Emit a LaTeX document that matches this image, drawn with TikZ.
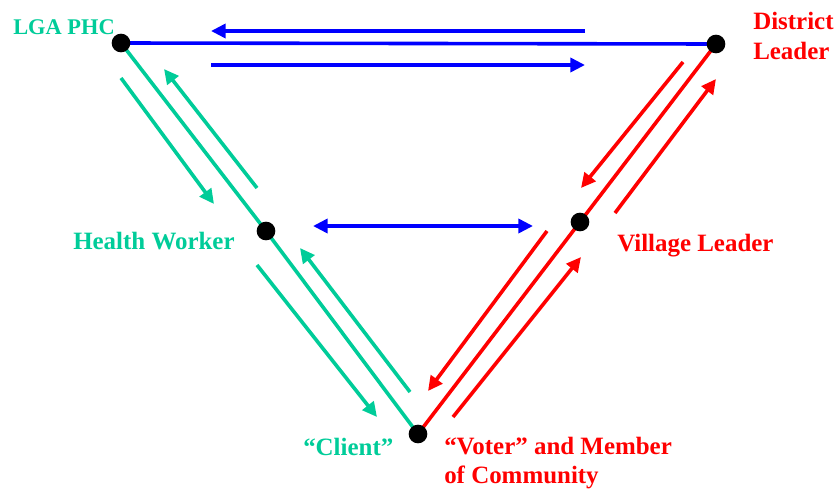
\documentclass[tikz,border=0pt]{standalone}
\usepackage{fontspec}
\setmainfont{Liberation Serif}
\usetikzlibrary{arrows.meta}
\definecolor{grn}{RGB}{0,204,153}
\definecolor{rd}{RGB}{255,0,0}
\definecolor{bl}{RGB}{0,0,255}
\pgfdeclarelayer{bg}
\pgfsetlayers{bg,main}
\begin{document}
\begin{tikzpicture}[x=0.75pt,y=-0.75pt,
  dot/.style={circle, fill=black, minimum size=14pt, inner sep=0pt},
  link/.style={line width=2.7pt},
  arr/.style={line width=2.7pt, -{Triangle[length=11pt,width=10.5pt]}},
  dblarr/.style={line width=2.7pt, {Triangle[length=11pt,width=10.5pt]}-{Triangle[length=11pt,width=10.5pt]}},
  lbl/.style={font=\fontsize{18.7}{22.5}\selectfont\bfseries, inner sep=0pt}]
\useasboundingbox (0,0) rectangle (836,489);
% dots
\node[dot] (lga) at (121,43) {};
\node[dot] (dist) at (716,44) {};
\node[dot] (hw) at (266,231) {};
\node[dot] (vl) at (580,222) {};
\node[dot] (cl) at (418,434) {};
% main lines
\begin{pgfonlayer}{bg}
\draw[link, bl] (lga.center) -- (dist.center);
\draw[link, grn] (lga.center) -- (hw.center) -- (cl.center);
\draw[link, rd] (cl.center) -- (vl.center) -- (dist.center);
\end{pgfonlayer}
% arrow end points
\coordinate (b1s) at (585,31); \coordinate (b1e) at (211,31);
\coordinate (b2s) at (211,65); \coordinate (b2e) at (585,65);
\coordinate (b3s) at (313,226); \coordinate (b3e) at (533,226);
\coordinate (g1s) at (121,78); \coordinate (g1e) at (214,204);
\coordinate (g2s) at (257,188); \coordinate (g2e) at (164,69);
\coordinate (g3s) at (257,265); \coordinate (g3e) at (377,417);
\coordinate (g4s) at (410,392); \coordinate (g4e) at (300,248);
\coordinate (r1s) at (683,62); \coordinate (r1e) at (581,188);
\coordinate (r2s) at (615,213); \coordinate (r2e) at (716,79);
\coordinate (r3s) at (547,231); \coordinate (r3e) at (428,391);
\coordinate (r4s) at (453,417); \coordinate (r4e) at (581,257);
% arrows
\draw[arr, bl] (b1s) -- (b1e);
\draw[arr, bl] (b2s) -- (b2e);
\draw[dblarr, bl] (b3s) -- (b3e);
\draw[arr, grn] (g1s) -- (g1e);
\draw[arr, grn] (g2s) -- (g2e);
\draw[arr, grn] (g3s) -- (g3e);
\draw[arr, grn] (g4s) -- (g4e);
\draw[arr, rd] (r1s) -- (r1e);
\draw[arr, rd] (r2s) -- (r2e);
\draw[arr, rd] (r3s) -- (r3e);
\draw[arr, rd] (r4s) -- (r4e);
% labels
\node[lbl, font=\fontsize{16.8}{20}\selectfont\bfseries, text=grn, anchor=base west] (lgal) at (13,35) {LGA PHC};
\node[lbl, text=rd, anchor=base west, align=left] (distl) at (753,59) {District\\Leader};
\node[lbl, text=grn, anchor=base west] (hwl) at (73,249) {Health Worker};
\node[lbl, text=rd, anchor=base west] (vll) at (617,251) {Village Leader};
\node[lbl, text=grn, anchor=base west] (cll) at (303,455) {“Client”};
\node[lbl, font=\fontsize{18.7}{21.5}\selectfont\bfseries, text=rd, anchor=base west, align=left] (vot) at (444,483) {“Voter” and Member\\of Community};
\end{tikzpicture}
\end{document}
